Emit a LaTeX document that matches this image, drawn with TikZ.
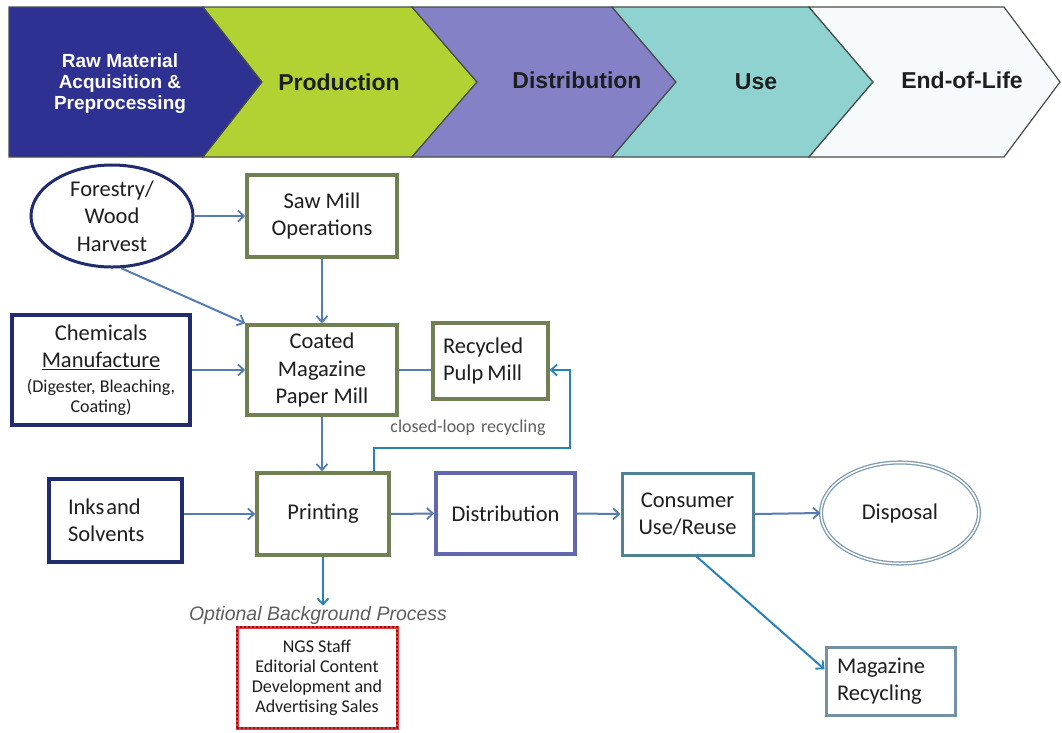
\documentclass[tikz,border=0pt]{standalone}
\usepackage{fontspec}
\setmainfont{Carlito}
\newfontfamily\arialf{Liberation Sans}
\usetikzlibrary{shapes.geometric,arrows.meta,calc}
\definecolor{cblue}{RGB}{46,49,146}
\definecolor{cgreen}{RGB}{178,210,52}
\definecolor{cpurple}{RGB}{133,129,198}
\definecolor{cteal}{RGB}{143,210,208}
\definecolor{cwhite}{RGB}{246,250,252}
\definecolor{chevline}{RGB}{70,78,72}
\definecolor{navyb}{RGB}{32,44,110}
\definecolor{oliveb}{RGB}{112,128,82}
\definecolor{distb}{RGB}{98,104,176}
\definecolor{consb}{RGB}{80,130,150}
\definecolor{magb}{RGB}{115,145,165}
\definecolor{dispb}{RGB}{125,155,175}
\definecolor{arrc}{RGB}{85,125,180}
\definecolor{arrc2}{RGB}{40,130,185}
\definecolor{ngsred}{RGB}{225,60,60}
\definecolor{ngsdark}{RGB}{140,20,30}
\definecolor{txt}{RGB}{30,30,30}
\definecolor{graytxt}{RGB}{95,95,95}
\newcommand\myBody{\fontsize{22.5}{27.5}\selectfont}
\newcommand\mySmall{\fontsize{18}{20}\selectfont}
\newcommand\myBan{\arialf\bfseries\fontsize{23}{26}\selectfont}
\begin{document}
\begin{tikzpicture}[x=1pt,y=-1pt,
  chev/.style={draw=chevline,line width=1.2pt,line join=miter},
  bantxt/.style={font=\myBan,text=txt,inner sep=0pt},
  box/.style={draw,rectangle,line width=3.5pt,font=\myBody,text=txt,align=center,inner sep=0pt},
  greenbox/.style={box,draw=oliveb},
  navybox/.style={box,draw=navyb,line width=3.5pt},
  arr/.style={draw=arrc,line width=2pt,-{Straight Barb[length=6pt,width=11pt,line width=1.8pt]}},
  arrb/.style={draw=arrc2,line width=2pt,-{Straight Barb[length=6pt,width=11pt,line width=1.8pt]}},
  plain/.style={draw=arrc,line width=2pt}
]
\useasboundingbox (0,0) rectangle (1062,732);
\fill[white] (0,0) rectangle (1062,732);

% banner
\draw[chev,fill=cblue] (9,7) -- (203,7) -- (262,82) -- (203,157) -- (9,157) -- cycle;
\draw[chev,fill=cgreen] (203,7) -- (412,7) -- (477,82) -- (412,157) -- (203,157) -- (262,82) -- cycle;
\draw[chev,fill=cpurple] (412,7) -- (612,7) -- (676,82) -- (612,157) -- (412,157) -- (477,82) -- cycle;
\draw[chev,fill=cteal] (612,7) -- (809,7) -- (873,82) -- (809,157) -- (612,157) -- (676,82) -- cycle;
\draw[chev,fill=cwhite] (809,7) -- (1004,7) -- (1060,82) -- (1004,157) -- (809,157) -- (873,82) -- cycle;

\node[inner sep=0pt,text=white,align=center,font=\arialf\bfseries\fontsize{19}{21}\selectfont] (b1) at (120,84) {Raw Material\\Acquisition \&\\Preprocessing};
\node[bantxt] (b2) at (339,82) {Production};
\node[bantxt] (b3) at (577,80) {Distribution};
\node[bantxt] (b4) at (756,82) {Use};
\node[bantxt] (b5) at (962,80) {End-of-Life};

% nodes
\node[ellipse,draw=navyb,line width=3pt,minimum width=162pt,minimum height=102pt,inner sep=0pt,font=\myBody,text=txt,align=center] (forest) at (112,216) {Forestry/\\Wood\\Harvest};
\node[greenbox,minimum width=150pt,minimum height=82pt] (saw) at (322,216) {Saw Mill\\Operations};
\node[greenbox,minimum width=150pt,minimum height=90pt] (coated) at (322,370) {Coated\\Magazine\\Paper Mill};
\node[greenbox,minimum height=76pt,text width=95pt,inner xsep=10pt,align=left] (recyc) at (490.5,361) {Recycled\\Pulp\hspace{4pt}Mill};
\node[navybox,minimum width=178pt,minimum height=110pt] (chem) at (101,370) {Chemicals\\\underline{Manufacture}\\[-3pt]{\mySmall (Digester, Bleaching,}\\[-7pt]{\mySmall Coating)}};
\node[navybox,minimum height=83pt,text width=95pt,inner xsep=19pt,align=left] (inks) at (115.5,520.5) {Inks\hspace{2pt}and\\Solvents};
\node[greenbox,minimum width=132pt,minimum height=82pt] (print) at (323,514) {Printing};
\node[box,draw=distb,minimum width=139pt,minimum height=81pt] (dist) at (505.5,513.5) {Distribution};
\node[box,draw=consb,line width=3pt,minimum width=131pt,minimum height=82pt] (cons) at (687.5,514) {Consumer\\Use/Reuse};
\node[ellipse,draw=dispb,double,double distance=1.5pt,line width=1.3pt,minimum width=158pt,minimum height=101pt,inner sep=0pt,font=\myBody,text=txt] (disp) at (900,513) {Disposal};
\node[box,draw=magb,line width=3pt,minimum height=68pt,text width=107pt,inner xsep=11pt,align=left] (mag) at (890.5,681) {Magazine\\Recycling};
\node[rectangle,draw=ngsred,line width=3pt,postaction={draw=ngsdark,line width=1.2pt,dash pattern=on 2pt off 2pt},minimum width=160pt,minimum height=101pt,inner sep=0pt,font=\mySmall,text=txt,align=center] (ngs) at (317,677.5) {NGS Staff\\Editorial Content\\Development and\\Advertising Sales};
\node[inner sep=0pt,font=\arialf\itshape\fontsize{19.5}{22}\selectfont,text=graytxt] (opt) at (318,615) {Optional Background Process};
\node[inner sep=0pt,font=\fontsize{18}{20}\selectfont,text=graytxt] (cl) at (468,428) {closed-loop\hspace{6pt}recycling};
\coordinate (loopc) at (570,448);

% connectors
\draw[arr] (forest.east) -- (saw.west);
\draw[arr] (forest.-80) -- (coated.north west);
\draw[arr] (saw.south) -- (saw.south |- coated.north);
\draw[arr] (chem.east) -- (coated.west);
\draw[plain] (coated.east) -- (coated.east -| recyc.west);
\draw[arr] (coated.south) -- (coated.south |- print.north);
\draw[arrb] ($(print.north east)+(-17,0)$) |- (loopc) |- ($(recyc.east)+(0,9)$);
\draw[arr] (inks.east |- print.west) -- (print.west);
\draw[arr] (print.east) -- (dist.west);
\draw[arr] (dist.east) -- (cons.west);
\draw[arr] (cons.east) -- (disp.west);
\draw[arrb] (print.south) -- (print.south |- opt.north);
\draw[arrb] (cons.-78) -- (mag.170);
\end{tikzpicture}
\end{document}
